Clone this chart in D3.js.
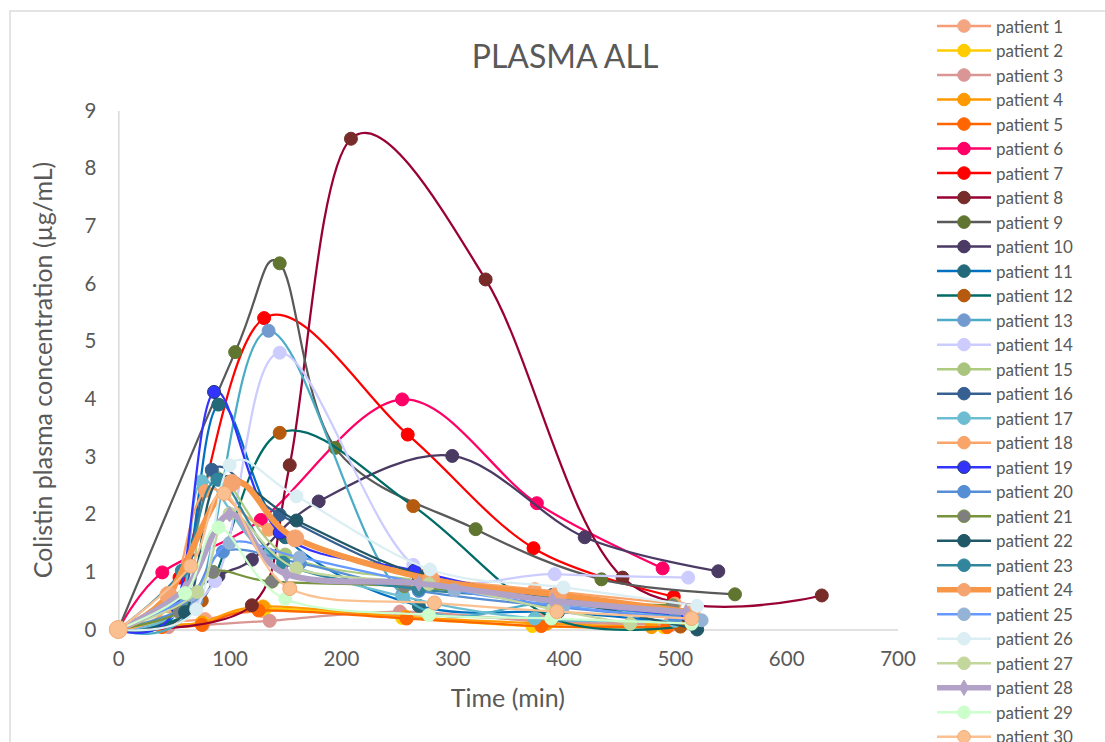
<!DOCTYPE html>
<html><head><meta charset="utf-8">
<script src="https://cdn.jsdelivr.net/npm/d3@7"></script>
<style>
body{margin:0;background:#fff;}
svg text{font-family:Lato,"Liberation Sans",sans-serif;fill:#595959;}
</style>
</head><body>
<svg id="chart" width="1105" height="742"></svg>
<script>
// ---------- data ----------
const patientNames = d3.range(1, 31).map(i => "patient " + i);
const xTicks = [0, 100, 200, 300, 400, 500, 600, 700];
const yTicks = [0, 1, 2, 3, 4, 5, 6, 7, 8, 9];

const seriesTimes = [
  [0,40,78,130,255,380,495],
  [0,42,76,132,255,372,490],
  [0,45,76,136,253,380,497],
  [0,40,75,130,258,385,479],
  [0,39,75,126,259,380,493],
  [0,39.5,128,255,376,489],
  [0,55,131,260,373,499],
  [0,120,154,209,330,453,632],
  [0,105,145,195,321,434,554],
  [0,90,120,180,300,419,539],
  [0,55,90,150,270,395,515],
  [0,75,145,265,390,505],
  [0,70,135,255,390,515],
  [0,87,145,265,392,512],
  [0,60,84,150,270,379,500],
  [0,55,84,145,270,390,499],
  [0,55,75,135,256,374,500],
  [0,45,78,135,270,374,500],
  [0,52,86,145,266,390,510],
  [0,60,94,163,270,390,500],
  [0,55,85,138,257,390,498],
  [0,60,90,160,275,400,520],
  [0,57,89,148,270,389,515],
  [0,45,102,159,281,395,515],
  [0,65,100,163,302,400,524],
  [0,70,100,160,280,400,520],
  [0,71,100,160,279,390,460],
  [0,60,100,151,270,390,510],
  [0,60,90,150,279,389,515],
  [0,65,95,154,284,394,515]
];
const seriesValues = [
  [0,0.12,0.18,0.32,0.26,0.17,0.10],
  [0,0.06,0.12,0.36,0.20,0.06,0.04],
  [0,0.04,0.08,0.15,0.31,0.14,0.08],
  [0,0.08,0.12,0.40,0.22,0.10,0.04],
  [0,0.04,0.08,0.33,0.19,0.06,0.04],
  [0,0.99,1.90,3.99,2.19,1.06],
  [0,0.90,5.40,3.38,1.41,0.57],
  [0,0.42,2.85,8.51,6.07,0.90,0.59],
  [0,4.81,6.35,3.15,1.74,0.87,0.61],
  [0,0.93,1.21,2.22,3.01,1.60,1.01],
  [0,0.40,3.90,1.60,0.41,0.30,0.10],
  [0,0.50,3.41,2.14,0.20,0.05],
  [0,0.50,5.18,0.60,0.45,0.20],
  [0,0.84,4.80,1.12,0.96,0.90],
  [0,0.50,2.75,1.30,0.85,0.57,0.30],
  [0,0.40,2.77,1.99,0.90,0.60,0.33],
  [0,0.40,2.57,1.30,0.57,0.19,0.15],
  [0,0.40,2.40,1.73,0.95,0.70,0.45],
  [0,0.40,4.12,1.68,1.02,0.50,0.25],
  [0,0.40,1.35,1.15,0.67,0.40,0.20],
  [0,0.30,1.00,0.83,0.75,0.50,0.42],
  [0,0.30,2.60,1.89,0.92,0.50,0.00],
  [0,1.02,2.60,1.16,0.70,0.54,0.30],
  [0,0.60,2.54,1.58,0.87,0.60,0.30],
  [0,0.60,1.50,1.25,0.68,0.40,0.16],
  [0,0.35,2.85,2.31,1.04,0.73,0.41],
  [0,0.65,2.01,1.06,0.79,0.35,0.10],
  [0,0.70,2.00,0.96,0.80,0.50,0.30],
  [0,0.63,1.77,0.53,0.25,0.19,0.10],
  [0,1.10,2.36,0.71,0.46,0.31,0.19]
];

// ---------- styles ----------
const lineColors = ["#F69C77","#FFCC00","#D99694","#FF9900","#FF6600","#FF0066","#FF0000","#990033","#595959","#4A3A64",
  "#0070C0","#006B66","#4BACC6","#CCCCFF","#ADCC80","#376092","#6CBDD2","#F9A56A","#3333FF","#558ED5",
  "#77933C","#215868","#31859C","#F79646","#6699FF","#DAEEF3","#C3D69B","#B3A2C7","#CCFFCC","#FAC090"];
const markerFills = ["#F4A582","#FFCC00","#D99694","#FF9900","#FF6600","#FF0066","#FF0000","#772C2A","#5F7530","#4A3A64",
  "#23697A","#B55A0E","#729ACF","#CCCCFF","#A9C57D","#376092","#6CBDD2","#F9A56A","#3333FF","#558ED5",
  "#7F7F7F","#215868","#31859C","#F6A46F","#95B3D7","#DAEEF3","#C3D69B","#B3A2C7","#CCFFCC","#FAC090"];
const markerStrokes = markerFills.map((c, i) => i === 18 ? "#1F3C6E" : (i === 20 ? "#77933C" : (i === 29 ? "#F5A874" : c)));
const lineWidths = lineColors.map((c, i) => (i === 23 || i === 27) ? 6 : 2.25);

// ---------- drawing ----------
const svg = d3.select("#chart");
svg.append("rect").attr("x", 10).attr("y", 11).attr("width", 1200).attr("height", 900)
  .attr("fill", "#fff").attr("stroke", "#D9D9D9").attr("stroke-width", 1.4);

const x = d3.scaleLinear().domain([0, 700]).range([118.3, 897.5]);
const y = d3.scaleLinear().domain([0, 9]).range([629.5, 110.5]);

const xAxis = svg.append("g").attr("transform", `translate(0,${y(0)})`)
  .call(d3.axisBottom(x).tickValues(xTicks).tickSize(0).tickSizeOuter(0).tickPadding(22));
const yAxis = svg.append("g").attr("transform", `translate(${x(0)},0)`)
  .call(d3.axisLeft(y).tickValues(yTicks).tickSize(0).tickSizeOuter(0).tickPadding(22));
[xAxis, yAxis].forEach(a => {
  a.select(".domain").attr("stroke", "#D9D9D9").attr("stroke-width", 1.5);
  a.selectAll("text").attr("font-size", 20.5).attr("fill", "#595959")
    .style("font-family", "Lato, 'Liberation Sans', sans-serif");
});

const line = d3.line().x(d => x(d[0])).y(d => y(d[1])).curve(d3.curveCardinal.tension(0));
const diamond = d3.symbol().type(d3.symbolDiamond).size(70);

patientNames.forEach((name, i) => {
  const pts = seriesTimes[i].map((t, k) => [t, seriesValues[i][k]]);
  const g = svg.append("g");
  g.append("path").attr("d", line(pts)).attr("fill", "none")
    .attr("stroke", lineColors[i]).attr("stroke-width", lineWidths[i])
    .attr("stroke-linejoin", "round").attr("stroke-linecap", "round");
  if (i === 27) {
    g.selectAll("path.m").data(pts).join("path").attr("class", "m")
      .attr("transform", d => `translate(${x(d[0])},${y(d[1])})`).attr("d", diamond)
      .attr("fill", markerFills[i]).attr("stroke", markerStrokes[i]);
  } else {
    const r = i === 23 ? 8.5 : (i === 29 ? 7 : 6.5);
    g.selectAll("circle").data(pts).join("circle")
      .attr("cx", d => x(d[0])).attr("cy", d => y(d[1]))
      .attr("r", (d, k) => (i === 29 && k === 0) ? 9 : r)
      .attr("fill", markerFills[i]).attr("stroke", markerStrokes[i]).attr("stroke-width", 1);
  }
});

// titles
svg.append("text").attr("x", 565).attr("y", 55).attr("text-anchor", "middle")
  .attr("dominant-baseline", "central").attr("font-size", 32).text("PLASMA ALL");
svg.append("text").attr("x", (x(0) + x(700)) / 2).attr("y", 697).attr("text-anchor", "middle")
  .attr("dominant-baseline", "central").attr("font-size", 25).text("Time (min)");
svg.append("text").attr("transform", `translate(42,${(y(0) + y(9)) / 2}) rotate(-90)`)
  .attr("text-anchor", "middle").attr("dominant-baseline", "central").attr("font-size", 25)
  .text("Colistin plasma concentration (µg/mL)");

// legend
const leg = svg.append("g");
patientNames.forEach((name, i) => {
  const ly = 26 + 24.51 * i;
  const g = leg.append("g").attr("transform", `translate(0,${ly})`);
  g.append("line").attr("x1", 937).attr("x2", 991).attr("y1", 0).attr("y2", 0)
    .attr("stroke", lineColors[i]).attr("stroke-width", lineWidths[i] === 6 ? 5.5 : 2.5);
  if (i === 27) {
    g.append("path").attr("transform", "translate(964,0)").attr("d", diamond)
      .attr("fill", markerFills[i]).attr("stroke", markerStrokes[i]);
  } else {
    g.append("circle").attr("cx", 964).attr("cy", 0).attr("r", 6.3)
      .attr("fill", markerFills[i]).attr("stroke", markerStrokes[i]).attr("stroke-width", 1);
  }
  g.append("text").attr("x", 996).attr("y", 0).attr("dominant-baseline", "central")
    .attr("font-size", 17).text(name);
});
</script>
</body></html>
